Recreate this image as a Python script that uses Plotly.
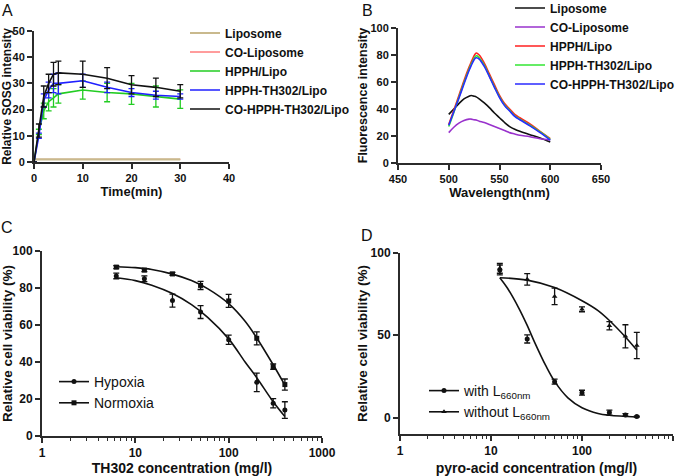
import plotly.graph_objects as go

# ---------------- Panel A data ----------------
time_min = [0, 1, 2, 3, 4, 5, 10, 15, 20, 25, 30]
a_liposome = [1.0, 1.0, 1.0, 1.0, 1.0, 1.0, 1.0, 1.0, 1.0, 1.0, 1.0]
a_co_liposome = [1.0, 1.0, 1.0, 1.0, 1.0, 1.0, 1.0, 1.0, 1.0, 1.0, 1.0]
a_hpph = [0, 11.5, 19.5, 23, 24.5, 26, 27.5, 26.5, 26, 25, 24]
a_hpph_err = [0, 1, 3, 3.5, 3.5, 3.5, 3.5, 3.5, 4, 4, 3.5]
a_hpph_th = [0, 10, 23.5, 27.5, 30, 30, 31, 28.5, 26.5, 25.5, 25]
a_hpph_th_err = [0, 1, 2.5, 3, 3.5, 4, 2.5, 2, 1.5, 1.5, 1]
a_co_hpph_th = [0, 12, 25, 30, 33.5, 34, 33.5, 32, 29.5, 28.5, 27]
a_co_hpph_th_err = [0, 2.5, 4, 3.5, 4.5, 4.5, 5, 4, 3.5, 3.5, 2.5]

# ---------------- Panel B data ----------------
wavelength = [500, 505, 510, 515, 520, 522, 525, 527, 530, 535, 540, 545, 550, 555, 560, 565, 570, 580, 590, 600]
b_liposome = [36, 40, 44, 47.5, 49.5, 50, 49.5, 49, 47.5, 44.5, 41, 37, 33.5, 30, 27, 25, 23.5, 21, 18.5, 15.5]
b_co_liposome = [22.5, 26.5, 29.5, 31.5, 32.5, 32.5, 32, 31.8, 31, 30, 28.5, 27, 25.5, 24, 22.5, 21.5, 20.5, 19.5, 18, 17]
b_hpph = [28.5, 39, 50, 61, 71, 74.5, 79.5, 81.5, 80, 74, 66, 58, 50, 44, 40, 36, 33.5, 29, 23.5, 18]
b_hpph_th = [27, 37.5, 48.5, 59.5, 69.5, 73, 77.5, 79.5, 78, 72.5, 64.5, 56.5, 49, 43, 39, 35, 32.5, 28, 23, 17.5]
b_co_hpph_th = [28, 38, 48, 58.5, 68.5, 72, 76.5, 78, 77, 71.5, 64, 56, 48.5, 42.5, 38.5, 34.5, 32, 27.5, 22.5, 17]

# ---------------- Panel C data ----------------
th302_conc = [6.25, 12.5, 25, 50, 100, 200, 300, 400]
c_hypoxia = [86.5, 85, 73.2, 67, 52, 29, 17.7, 14]
c_hypoxia_err = [1.5, 1.5, 3.5, 3.5, 2.5, 5, 2.5, 4.5]
c_normoxia = [91.3, 89.7, 87.6, 81.4, 73, 52.8, 37.5, 27.8]
c_normoxia_err = [0.8, 0.8, 0.8, 2.2, 3.5, 3.5, 1.5, 3]
c_fit_conc = [6.25, 10, 15, 25, 40, 60, 100, 150, 200, 300, 400]
c_hypoxia_fit = [85.5, 84, 81.5, 77, 71, 64, 52.5, 40, 31.5, 18.5, 10.5]
c_normoxia_fit = [91.5, 91, 90, 87.5, 84, 79.5, 71.5, 62, 53, 38.5, 27.5]

# ---------------- Panel D data ----------------
pyro_conc = [12.5, 25, 50, 100, 200, 300, 400]
d_with = [89.7, 47.8, 21.8, 15.1, 3, 1.6, 0.6]
d_with_err = [3, 2.5, 1.5, 1.5, 1.5, 0.8, 0.3]
d_without = [90.7, 84, 73.6, 65.8, 55.8, 49.4, 43.8]
d_without_err = [3, 3.5, 5, 1.5, 2.5, 7, 8]
d_with_fit_conc = [12.5, 15, 20, 25, 30, 40, 50, 70, 100, 150, 200, 400]
d_with_fit = [85, 79, 67, 56, 46, 31.5, 22, 12, 6, 2.5, 1.4, 0.3]
d_without_fit_conc = [12.5, 25, 50, 100, 150, 200, 300, 400]
d_without_fit = [85, 83.5, 79, 71, 65, 59, 49, 41]

FONT = "Liberation Sans, Arial, sans-serif"
AX = "#2b2b2b"

fig = go.Figure()

# ---- Panel A traces ----
a_series = [
    ("CO-Liposome", a_co_liposome, None, "#ff3b3b", 2, 1.0),
    ("Liposome", a_liposome, None, "#c9b98d", 1, 2.2),
    ("HPPH/Lipo", a_hpph, a_hpph_err, "#22cc22", 3, 1.6),
    ("HPPH-TH302/Lipo", a_hpph_th, a_hpph_th_err, "#1f1fff", 4, 1.6),
    ("CO-HPPH-TH302/Lipo", a_co_hpph_th, a_co_hpph_th_err, "#111111", 5, 1.6),
]
for name, vals, err, col, rank, lw in a_series:
    kw = {}
    if err is not None:
        kw["error_y"] = dict(type="data", array=err, color=col, thickness=1.3, width=3)
    fig.add_trace(go.Scatter(x=time_min, y=vals, mode="lines", name=name,
                             line=dict(color=col, width=lw), legendrank=rank,
                             xaxis="x", yaxis="y", legend="legend", **kw))

# ---- Panel B traces ----
b_series = [
    ("Liposome", b_liposome, "#111111"),
    ("CO-Liposome", b_co_liposome, "#9932cc"),
    ("HPPH/Lipo", b_hpph, "#ff2020"),
    ("HPPH-TH302/Lipo", b_hpph_th, "#33e633"),
    ("CO-HPPH-TH302/Lipo", b_co_hpph_th, "#2a2aff"),
]
for name, vals, col in b_series:
    fig.add_trace(go.Scatter(x=wavelength, y=vals, mode="lines", name=name,
                             line=dict(color=col, width=1.6, shape="spline"),
                             xaxis="x2", yaxis="y2", legend="legend2"))

# ---- Panel C traces ----
c_series = [
    ("Hypoxia", th302_conc, c_hypoxia, c_hypoxia_err, c_fit_conc, c_hypoxia_fit, "circle", "g1"),
    ("Normoxia", th302_conc, c_normoxia, c_normoxia_err, c_fit_conc, c_normoxia_fit, "square", "g2"),
]
for name, xs, ys, es, fx, fy, sym, grp in c_series:
    fig.add_trace(go.Scatter(x=fx, y=fy, mode="lines", line=dict(color="#111", width=1.6, shape="spline"),
                             showlegend=False, xaxis="x3", yaxis="y3", legend="legend3"))
    fig.add_trace(go.Scatter(x=xs, y=ys, mode="markers", showlegend=False,
                             marker=dict(symbol=sym, size=5, color="#111"),
                             error_y=dict(type="data", array=es, color="#111", thickness=1.3, width=3),
                             xaxis="x3", yaxis="y3", legend="legend3"))
    fig.add_trace(go.Scatter(x=[None], y=[None], mode="lines+markers", name=name,
                             line=dict(color="#111", width=1.6), marker=dict(symbol=sym, size=5, color="#111"),
                             legendgroup=grp, xaxis="x3", yaxis="y3", legend="legend3"))

# ---- Panel D traces ----
d_series = [
    ("with L<sub>660nm</sub>", pyro_conc, d_with, d_with_err, d_with_fit_conc, d_with_fit, "circle", "h1"),
    ("without L<sub>660nm</sub>", pyro_conc, d_without, d_without_err, d_without_fit_conc, d_without_fit, "triangle-up", "h2"),
]
for name, xs, ys, es, fx, fy, sym, grp in d_series:
    fig.add_trace(go.Scatter(x=fx, y=fy, mode="lines", line=dict(color="#111", width=1.6, shape="spline"),
                             showlegend=False, xaxis="x4", yaxis="y4", legend="legend4"))
    fig.add_trace(go.Scatter(x=xs, y=ys, mode="markers", showlegend=False,
                             marker=dict(symbol=sym, size=5, color="#111"),
                             error_y=dict(type="data", array=es, color="#111", thickness=1.3, width=3),
                             xaxis="x4", yaxis="y4", legend="legend4"))
    fig.add_trace(go.Scatter(x=[None], y=[None], mode="lines+markers", name=name,
                             line=dict(color="#111", width=1.6), marker=dict(symbol=sym, size=5, color="#111"),
                             legendgroup=grp, xaxis="x4", yaxis="y4", legend="legend4"))

W, H = 685, 476


def fx_(v):
    return v / W


def fy_(v):
    return 1 - v / H


def px_x(a, b):
    return [fx_(a), fx_(b)]


def px_y(top, bottom):
    return [fy_(bottom), fy_(top)]


def axis(domain, anchor, tickfs, title, titlefs, standoff, **extra):
    d = dict(domain=domain, anchor=anchor, showline=True, linecolor=AX, linewidth=2,
             ticks="outside", ticklen=5, tickwidth=1.5, tickcolor=AX, showgrid=False,
             zeroline=False, automargin=True,
             tickfont=dict(family=FONT, size=tickfs, color="#111", weight="bold"),
             title=dict(text=title, font=dict(family=FONT, size=titlefs, color="#111", weight="bold"),
                        standoff=standoff))
    d.update(extra)
    return d


minor_log = dict(ticks="outside", ticklen=3, tickwidth=1, tickcolor=AX, dtick="D1")

leg_common = dict(bgcolor="rgba(0,0,0,0)", borderwidth=0, xanchor="left", yanchor="top",
                  traceorder="normal")

fig.update_layout(
    width=W, height=H, margin=dict(l=0, r=0, t=0, b=0, autoexpand=False),
    paper_bgcolor="white", plot_bgcolor="white", showlegend=True,
    xaxis=axis(px_x(34, 229), "y", 11, "Time(min)", 13, 4, range=[0, 40], dtick=10),
    yaxis=axis(px_y(31, 162), "x", 11, "Relative SOSG intensity", 12, 10, range=[0, 50], dtick=10),
    xaxis2=axis(px_x(398, 601), "y2", 11, "Wavelength(nm)", 13, 4, range=[450, 650], dtick=50),
    yaxis2=axis(px_y(28, 163), "x2", 11, "Fluorescence intensity", 12.5, 0, range=[0, 100], dtick=20),
    xaxis3=axis(px_x(42, 322), "y3", 12, "TH302 concentration (mg/l)", 14, 8, type="log",
                range=[0, 3], dtick=1, minor=minor_log),
    yaxis3=axis(px_y(251, 436), "x3", 12, "Relative cell viability (%)", 13.5, 13, range=[0, 100], dtick=20),
    xaxis4=axis(px_x(400, 673), "y4", 12, "pyro-acid concentration (mg/l)", 14, 8, type="log",
                range=[0, 3], dtick=1, minor=minor_log),
    yaxis4=axis(px_y(253, 434), "x4", 12, "Relative cell viability (%)", 13.5, 0, range=[-10, 100],
                tickvals=[0, 50, 100]),
    legend=dict(x=fx_(225 - 40), y=fy_(18.5), font=dict(family=FONT, size=12, color="#111", weight="bold"),
                **leg_common),
    legend2=dict(x=fx_(550 - 40), y=fy_(-6.5), font=dict(family=FONT, size=12, color="#111", weight="bold"),
                 **leg_common),
    legend3=dict(x=fx_(94 - 40), y=fy_(366), font=dict(family=FONT, size=14, color="#111"),
                 tracegroupgap=14, **leg_common),
    legend4=dict(x=fx_(464 - 40), y=fy_(375), font=dict(family=FONT, size=14, color="#111"),
                 tracegroupgap=0, **leg_common),
)

letters = [("A", 7, 10), ("B", 367, 10), ("C", 7, 227), ("D", 367, 235)]
for txt, lx, ly in letters:
    fig.add_annotation(text=txt, x=fx_(lx), y=fy_(ly), xref="paper", yref="paper",
                       showarrow=False, font=dict(family=FONT, size=16, color="#111"),
                       xanchor="center", yanchor="middle")

fig.write_html("out.html", config={"displayModeBar": False},
               post_script="document.body.style.margin='0';")
